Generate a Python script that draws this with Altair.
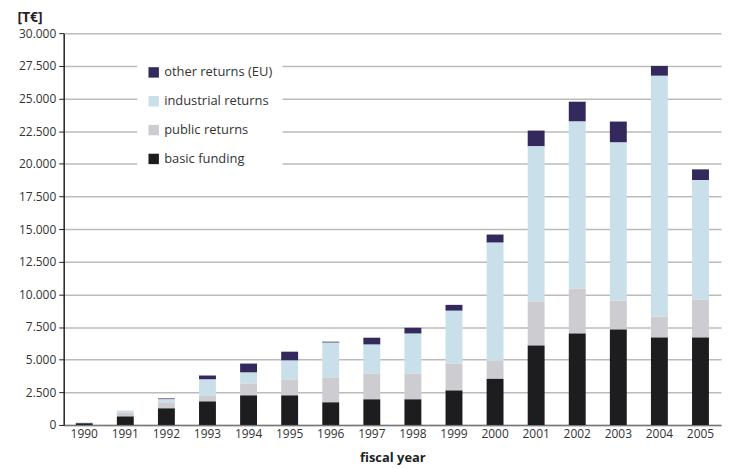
import altair as alt
import pandas as pd

years = [str(y) for y in range(1990, 2006)]
basic = [130, 650, 1270, 1800, 2260, 2260, 1730, 1960, 1960, 2640, 3530, 6090, 7010, 7310, 6700, 6700]
public = [0, 300, 460, 460, 915, 1220, 1900, 1980, 1980, 2060, 1380, 3350, 3420, 2210, 1600, 2900]
industrial = [70, 150, 230, 1220, 835, 1450, 2670, 2210, 3050, 4040, 9050, 11890, 12800, 12110, 18430, 9140]
other = [0, 0, 70, 305, 690, 680, 75, 530, 450, 455, 620, 1210, 1520, 1600, 760, 830]

series_names = ["other returns (EU)", "industrial returns", "public returns", "basic funding"]
series_colors = ["#33295d", "#c9e0ea", "#cdcdd1", "#1d1d20"]
series_values = [other, industrial, public, basic]
stack_rank = {"basic funding": 0, "public returns": 1, "industrial returns": 2, "other returns (EU)": 3}

rows = []
for name, vals in zip(series_names, series_values):
    for y, v in zip(years, vals):
        rows.append({"year": y, "series": name, "value": v, "rank": stack_rank[name]})
df = pd.DataFrame(rows)

FONT = "Open Sans"

chart = alt.Chart(df).mark_bar(size=17).encode(
    x=alt.X("year:N", sort=years, scale=alt.Scale(paddingInner=0.59, paddingOuter=0.295),
            axis=alt.Axis(title="fiscal year", labelAngle=0, ticks=False, labelPadding=4,
                          labelFontSize=12, labelColor="#333", labelFont=FONT,
                          titleFont=FONT, titleFontSize=13, titleFontWeight="bold",
                          titleColor="#222", titleY=37, titleBaseline="alphabetic",
                          domainColor="#777", domainWidth=1.5)),
    y=alt.Y("value:Q", stack="zero", scale=alt.Scale(domain=[0, 30000], nice=False),
            axis=alt.Axis(title="[T€]", titleAngle=0, titleAlign="left", titleX=-47, titleY=-12,
                          titleBaseline="alphabetic", titleFont=FONT, titleFontSize=14,
                          titleFontWeight="bold", titleColor="#222",
                          values=list(range(0, 30001, 2500)),
                          labelExpr="replace(format(datum.value, ','), ',', '.')",
                          labelFontSize=12, labelColor="#333", labelFont=FONT, labelPadding=3,
                          tickSize=5, tickColor="#222", domainColor="#222", domainWidth=1.5,
                          gridColor="#bbbbbb", gridWidth=1.5)),
    color=alt.Color("series:N", scale=alt.Scale(domain=series_names, range=series_colors),
                    legend=alt.Legend(title=None, orient="none", legendX=74, legendY=23,
                                      symbolType="square", symbolSize=110, symbolStrokeWidth=0,
                                      labelFontSize=13, labelFont=FONT, labelColor="#333",
                                      rowPadding=15, fillColor="white", padding=10,
                                      labelOffset=4)),
    order=alt.Order("rank:Q", sort="ascending"),
).properties(
    width=661, height=394,
    autosize=alt.AutoSizeParams(type="none"),
    padding={"left": 56, "top": 24, "right": 5, "bottom": 40},
).configure(background="white").configure_view(stroke=None)

chart.save("out.html", embed_options={"renderer": "svg", "actions": False})
